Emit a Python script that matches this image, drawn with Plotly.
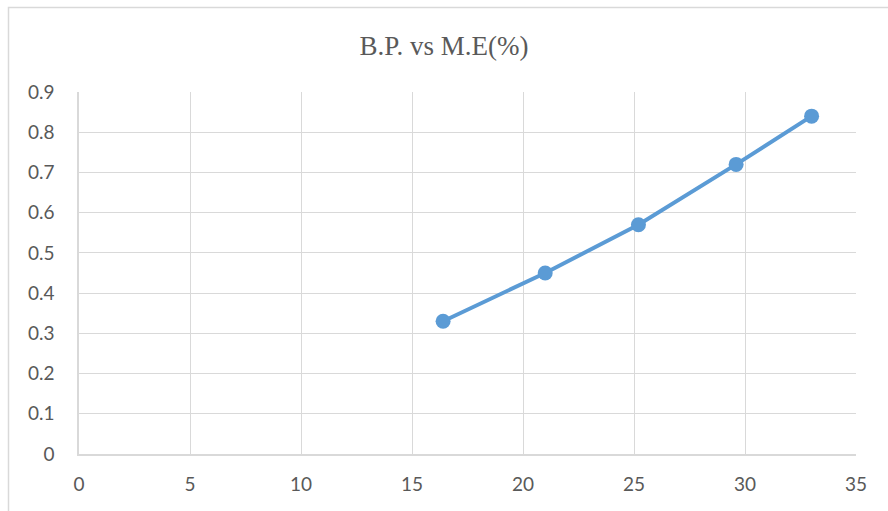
import plotly.graph_objects as go

me_percent = [16.4, 21.0, 25.2, 29.6, 33.0]
bp = [0.33, 0.45, 0.57, 0.72, 0.84]
title_text = "B.P. vs M.E(%)"

W, H = 888, 511
L, R, T, B = 79, 32, 92, 57
pw, ph = W - L - R, H - T - B

fig = go.Figure()
fig.add_trace(go.Scatter(
    x=me_percent, y=bp, mode="lines+markers",
    line=dict(color="#5B9BD5", width=4),
    marker=dict(color="#5B9BD5", size=15),
    showlegend=False, cliponaxis=False,
))

grid = "#d9d9d9"
tick_font = dict(family="Lato, Open Sans, sans-serif", size=19, color="#595959")
fig.update_layout(
    width=W, height=H,
    margin=dict(l=L, r=R, t=T, b=B, autoexpand=False),
    paper_bgcolor="white", plot_bgcolor="white",
    title=dict(text=title_text, x=0.5, xanchor="center", y=1 - 46 / H, yanchor="middle",
               font=dict(family="Liberation Serif, DejaVu Serif, serif", size=27, color="#595959")),
    xaxis=dict(range=[0, 35], dtick=5, tick0=0, showgrid=True, gridcolor=grid, gridwidth=1,
               zeroline=False, showline=True, linecolor=grid, linewidth=1.5,
               ticks="", ticklabelstandoff=12, automargin=False, tickfont=tick_font),
    yaxis=dict(range=[0, 0.9], dtick=0.1, tick0=0, showgrid=True, gridcolor=grid, gridwidth=1,
               zeroline=False, showline=True, linecolor=grid, linewidth=1.5,
               ticks="", ticklabelstandoff=19, automargin=False, tickfont=tick_font),
)

# outer chart-area border (cropped at right and bottom)
fig.add_shape(type="rect", xref="paper", yref="paper",
              x0=(8.5 - L) / pw, x1=(W + 20 - L) / pw,
              y0=-(B + 20) / ph, y1=(H - B - 7.5) / ph,
              line=dict(color="#d9d9d9", width=1.5), fillcolor="rgba(0,0,0,0)", layer="below")

fig.write_html("out.html", config={"displayModeBar": False},
               post_script="document.body.style.margin='0';document.body.style.overflow='hidden';")
